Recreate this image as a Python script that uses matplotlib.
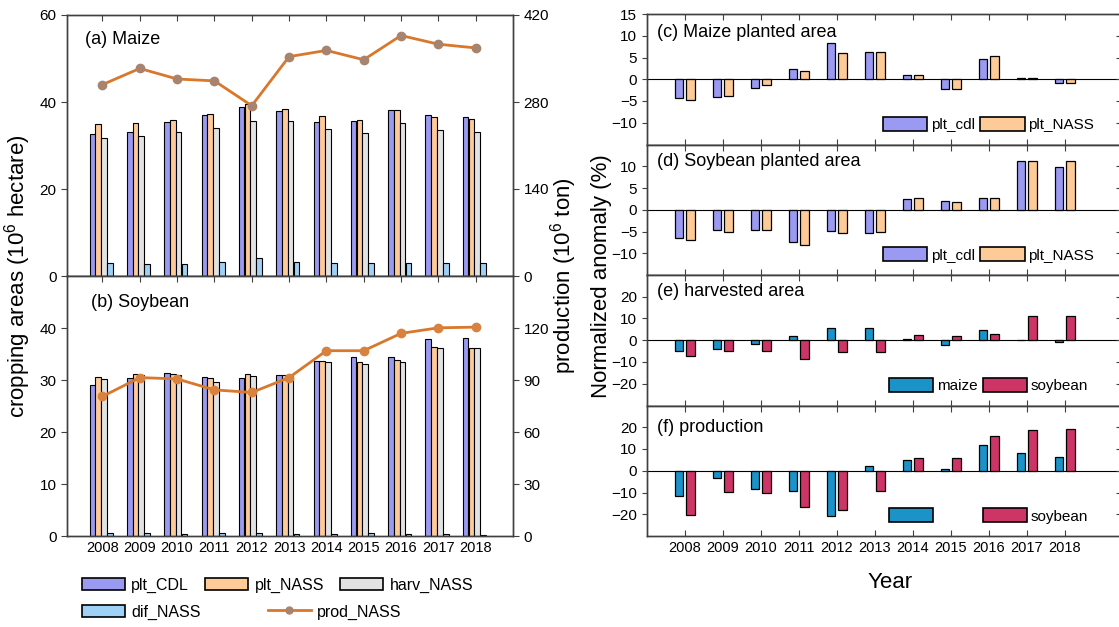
# Cropping areas / production of maize and soybean (left) and their
# normalized anomalies (right), 2008-2018.

# imports
import numpy as np
import matplotlib
matplotlib.use('Agg')
import matplotlib.pyplot as plt
from matplotlib.patches import Patch
from matplotlib.lines import Line2D

plt.rcParams['font.family'] = ['Liberation Sans', 'DejaVu Sans']
plt.rcParams['mathtext.default'] = 'regular'

# data
years = [2008, 2009, 2010, 2011, 2012, 2013, 2014, 2015, 2016, 2017, 2018]

# areas in 10^6 ha, production in 10^6 ton
maize_plt_cdl   = [32.7, 33.0, 35.3, 37.0, 38.8, 37.9, 35.4, 35.6, 38.2, 37.1, 36.6]
maize_plt_nass  = [34.9, 35.1, 35.8, 37.3, 39.5, 38.5, 36.8, 35.8, 38.2, 36.6, 36.2]
maize_harv_nass = [31.8, 32.2, 33.2, 34.0, 35.6, 35.6, 33.9, 32.8, 35.2, 33.6, 33.2]
maize_dif_nass  = [2.9, 2.7, 2.7, 3.2, 4.1, 3.2, 2.9, 2.9, 2.9, 2.9, 2.9]
maize_prod      = [308, 334, 317, 314, 274, 353, 363, 348, 387, 373, 367]

soy_plt_cdl   = [29.1, 30.3, 31.4, 30.5, 30.3, 30.9, 33.7, 34.4, 34.5, 37.9, 38.1]
soy_plt_nass  = [30.5, 31.2, 31.2, 30.3, 31.2, 31.0, 33.7, 33.5, 33.9, 36.3, 36.1]
soy_harv_nass = [30.2, 30.9, 30.9, 29.7, 30.8, 30.9, 33.5, 33.0, 33.4, 36.2, 36.2]
soy_dif_nass  = [0.5, 0.5, 0.3, 0.5, 0.5, 0.3, 0.3, 0.5, 0.3, 0.3, 0.2]
soy_prod      = [80.5, 91.4, 90.6, 84.3, 82.8, 91.4, 106.9, 106.9, 116.9, 120.1, 120.5]

# anomalies in %
c_cdl    = [-4.4, -4.0, -2.0, 2.4, 8.4, 6.2, 0.9, -2.3, 4.6, 0.3, -0.9]
c_nass   = [-4.8, -3.8, -1.4, 1.9, 6.0, 6.2, 0.9, -2.3, 5.3, 0.3, -0.9]
d_cdl    = [-6.6, -4.7, -4.7, -7.5, -4.8, -5.3, 2.5, 1.9, 2.7, 11.1, 9.8]
d_nass   = [-7.0, -5.1, -4.7, -8.2, -5.3, -5.0, 2.7, 1.8, 2.7, 11.3, 11.3]
e_maize  = [-4.9, -4.0, -1.5, 1.8, 5.6, 5.6, 0.8, -2.4, 4.9, 0.3, -0.9]
e_soy    = [-7.2, -4.9, -4.9, -8.5, -5.3, -5.3, 2.6, 1.8, 3.1, 11.3, 11.3]
f_maize  = [-11.4, -3.4, -8.3, -9.1, -20.6, 2.2, 4.9, 0.6, 11.8, 8.0, 6.5]
f_soy    = [-20.5, -9.7, -10.2, -16.6, -18.2, -9.5, 5.8, 5.8, 15.8, 18.8, 19.3]

# colors
c_blue   = '#9a9af2'
c_peach  = '#fdca98'
c_gray   = '#e2e2e2'
c_lblue  = '#9fd0f5'
c_line   = '#d9772b'
c_mk_a   = '#a8846f'
c_mk_b   = '#d9823f'
c_maize  = '#1b92c8'
c_soy    = '#cc3565'
c_spine  = '#404040'

# figure size in pixels
fig_w, fig_h = 1119, 627


def px_axes(x0, y0, x1, y1):
    """
    Axes rectangle from pixel coordinates (top-left origin).
    """
    return [x0/fig_w, 1 - y1/fig_h, (x1 - x0)/fig_w, (y1 - y0)/fig_h]


def style_spines(ax):
    for s in ax.spines.values():
        s.set_color(c_spine)
        s.set_linewidth(1.0)


def left_panel(fig, rect, areas, prod, ylim, yticks, plim, pticks, mk_color,
               label, lab_xy, show_years):
    ax = fig.add_axes(rect)
    x = np.array(years, dtype=float)
    cols = [c_blue, c_peach, c_gray, c_lblue]
    offs = [-0.27, -0.115, 0.04, 0.2]
    for vals, col, off in zip(areas, cols, offs):
        ax.bar(x + off, vals, width=0.15, color=col, edgecolor='k', linewidth=0.8,
               zorder=2)
    ax.set_xlim(2007.05, 2019.0)
    ax.set_ylim(ylim)
    ax.set_yticks(yticks)
    ax.set_xticks(years)
    ax.tick_params(axis='x', direction='in', top=True, length=4,
                   labelbottom=show_years, labelsize=10.5, colors=c_spine,
                   labelcolor='k')
    ax.tick_params(axis='y', direction='out', length=4, labelsize=11,
                   colors=c_spine, labelcolor='k')
    style_spines(ax)
    ax.text(lab_xy[0], lab_xy[1], label, transform=ax.transAxes, fontsize=13,
            va='center', ha='left')

    ax2 = ax.twinx()
    ax2.plot(years, prod, '-o', color=c_line, lw=2, markersize=6,
             markerfacecolor=mk_color, markeredgecolor=mk_color, zorder=3)
    ax2.set_ylim(plim)
    ax2.set_yticks(pticks)
    ax2.tick_params(axis='y', direction='out', length=4, labelsize=11,
                    colors=c_spine, labelcolor='k')
    style_spines(ax2)
    return ax, ax2


def right_panel(fig, rect, s1, s2, c1, c2, names, ylim, yticks, label, lab_y,
                show_years, hide_first=False):
    ax = fig.add_axes(rect)
    x = np.array(years, dtype=float)
    ax.bar(x - 0.15, s1, width=0.22, color=c1, edgecolor='k', linewidth=0.9,
           zorder=2)
    ax.bar(x + 0.14, s2, width=0.22, color=c2, edgecolor='k', linewidth=0.9,
           zorder=2)
    ax.axhline(0, color='k', lw=0.8, zorder=1)
    ax.set_xlim(2007.0, 2019.5)
    ax.set_ylim(ylim)
    ax.set_yticks(yticks)
    ax.set_yticklabels([str(t).replace('-', '\u2212') for t in yticks])
    ax.set_xticks(years)
    ax.tick_params(axis='x', direction='in', top=True, length=4,
                   labelbottom=show_years, labelsize=10.5, colors=c_spine,
                   labelcolor='k')
    ax.tick_params(axis='y', direction='out', length=3.5, labelsize=11,
                   colors=c_spine, labelcolor='k')
    style_spines(ax)
    ax.text(0.021, lab_y, label, transform=ax.transAxes, fontsize=13,
            va='center', ha='left')

    # inward ticks on the right side
    axr = ax.twinx()
    axr.set_ylim(ylim)
    axr.set_yticks(yticks)
    axr.tick_params(axis='y', direction='in', length=4, labelright=False,
                    colors=c_spine)
    style_spines(axr)

    handles = [Patch(facecolor=c1, edgecolor='k', linewidth=1.2),
               Patch(facecolor=c2, edgecolor='k', linewidth=1.2)]
    leg = ax.legend(handles, names, loc='center', bbox_to_anchor=(0.719, 0.153),
                    ncol=2, frameon=False, fontsize=11, handlelength=2.9,
                    handleheight=1.0, handletextpad=0.25, columnspacing=0.35,
                    borderpad=0.1)
    if hide_first:
        leg.get_texts()[0].set_color('none')
    return ax


def main():
    fig = plt.figure(figsize=(fig_w/100, fig_h/100), dpi=100)

    # left column: areas and production
    left_panel(fig, px_axes(67, 15, 513, 276),
               [maize_plt_cdl, maize_plt_nass, maize_harv_nass, maize_dif_nass],
               maize_prod, (0, 60), [0, 20, 40, 60], (0, 420),
               [0, 140, 280, 420], c_mk_a, '(a) Maize', (0.04, 0.907), False)
    left_panel(fig, px_axes(67, 276, 513, 536),
               [soy_plt_cdl, soy_plt_nass, soy_harv_nass, soy_dif_nass],
               soy_prod, (0, 50), [0, 10, 20, 30, 40], (0, 150),
               [0, 30, 60, 90, 120], c_mk_b, '(b) Soybean', (0.053, 0.899), True)

    fig.text(18/fig_w, 1 - 276/fig_h, 'cropping areas ($10^6$ hectare)',
             rotation=90, va='center', ha='center', fontsize=16)
    fig.text(564/fig_w, 1 - 276/fig_h, 'production ($10^6$ ton)',
             rotation=90, va='center', ha='center', fontsize=16)

    # legend below left column
    row1 = [Patch(facecolor=c_blue, edgecolor='k', linewidth=1.2),
            Patch(facecolor=c_peach, edgecolor='k', linewidth=1.2),
            Patch(facecolor=c_gray, edgecolor='k', linewidth=1.2)]
    fig.legend(row1, ['plt_CDL', 'plt_NASS', 'harv_NASS'], loc='center left',
               bbox_to_anchor=(72/fig_w, 1 - 585/fig_h), ncol=3, frameon=False,
               fontsize=11.5, handlelength=2.7, handleheight=0.85,
               handletextpad=0.4, columnspacing=1.0, borderpad=0.1)
    row2 = [Patch(facecolor=c_lblue, edgecolor='k', linewidth=1.2),
            Line2D([], [], color=c_line, lw=2, marker='o', markersize=5,
                   markerfacecolor=c_mk_a, markeredgecolor=c_mk_a)]
    fig.legend(row2, ['dif_NASS', 'prod_NASS'], loc='center left',
               bbox_to_anchor=(72/fig_w, 1 - 612/fig_h), ncol=2, frameon=False,
               fontsize=11.5, handlelength=2.7, handleheight=0.85,
               handletextpad=0.4, columnspacing=4.2, borderpad=0.1)

    # right column: anomalies
    x0, x1 = 647, 1122
    right_panel(fig, px_axes(x0, 14, x1, 144.5), c_cdl, c_nass, c_blue, c_peach,
                ['plt_cdl', 'plt_NASS'], (-15, 15), [-10, -5, 0, 5, 10, 15],
                '(c) Maize planted area', 0.862, False)
    right_panel(fig, px_axes(x0, 144.5, x1, 275), d_cdl, d_nass, c_blue, c_peach,
                ['plt_cdl', 'plt_NASS'], (-15, 15), [-10, -5, 0, 5, 10],
                '(d) Soybean planted area', 0.868, False)
    right_panel(fig, px_axes(x0, 275, x1, 405.5), e_maize, e_soy, c_maize, c_soy,
                ['maize', 'soybean'], (-30, 30), [-20, -10, 0, 10, 20],
                '(e) harvested area', 0.872, False)
    right_panel(fig, px_axes(x0, 405.5, x1, 536), f_maize, f_soy, c_maize, c_soy,
                ['maize', 'soybean'], (-30, 30), [-20, -10, 0, 10, 20],
                '(f) production', 0.83, True, hide_first=True)

    fig.text(602/fig_w, 1 - 276/fig_h, 'Normalized anomaly (%)', rotation=90,
             va='center', ha='center', fontsize=16)
    fig.text(890/fig_w, 1 - 583/fig_h, 'Year', va='center', ha='center',
             fontsize=16)

    fig.savefig('out.png', dpi=100)


if __name__ == "__main__":
    main()
